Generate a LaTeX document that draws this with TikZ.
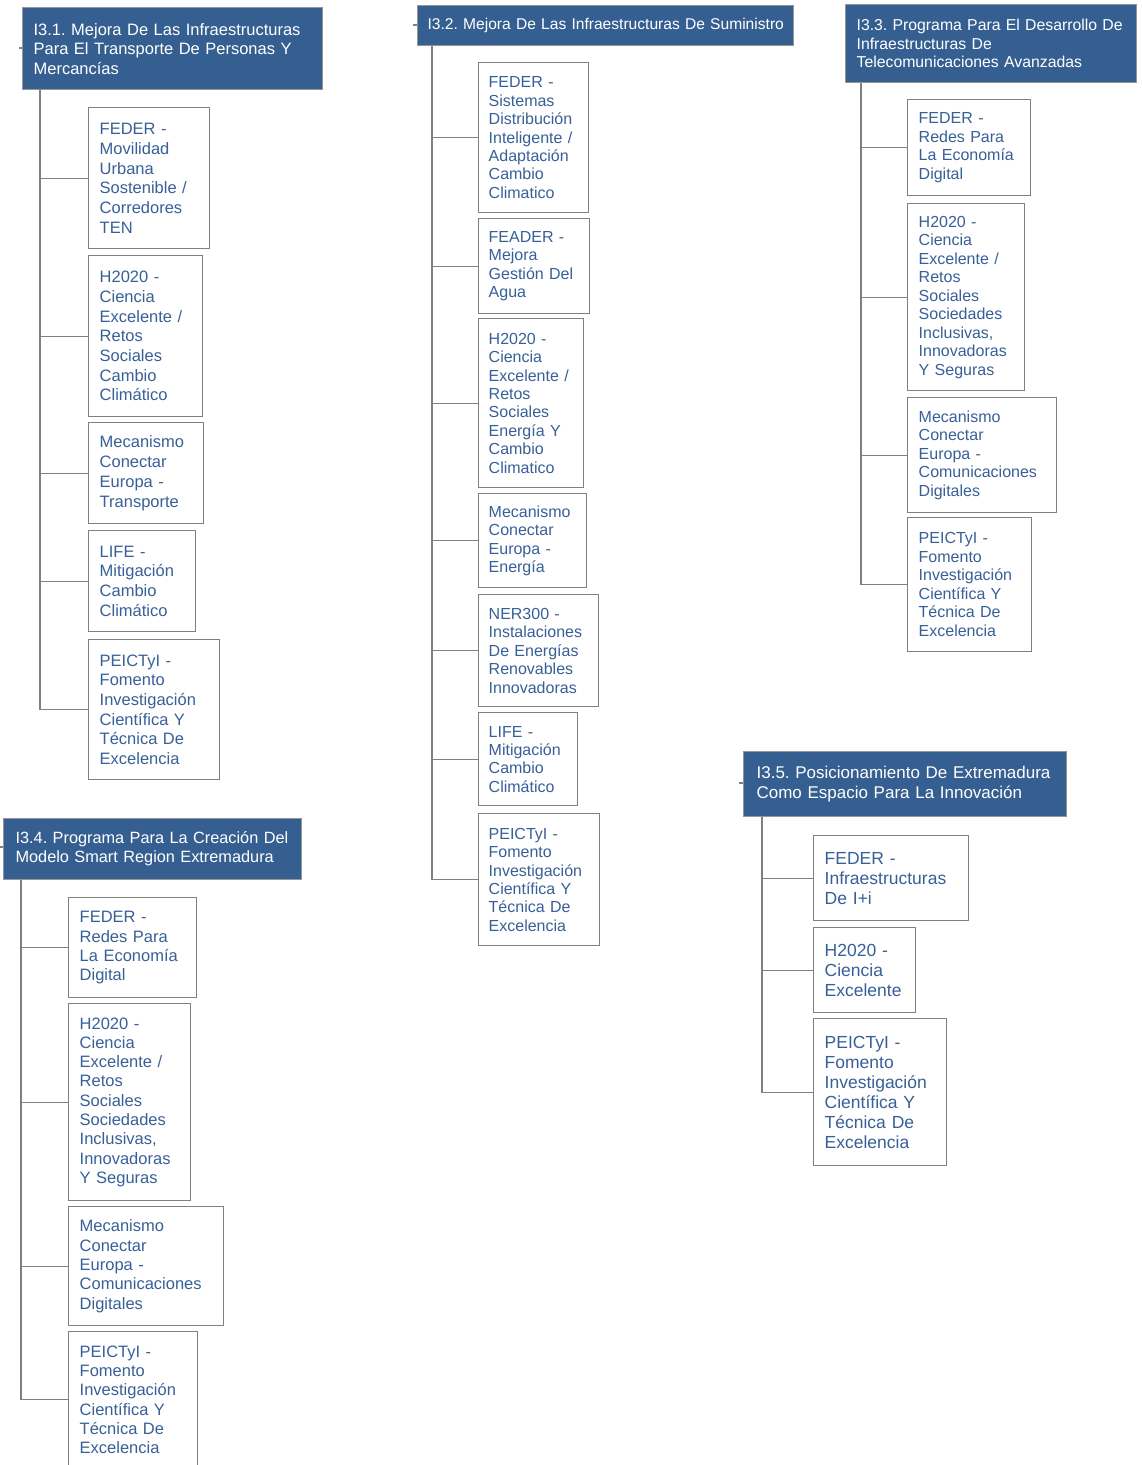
\documentclass[tikz,border=0pt]{standalone}
\usepackage{fontspec}
\setmainfont{Liberation Sans}
\definecolor{hdr}{RGB}{54,95,145}
\definecolor{txt}{RGB}{56,96,152}
\definecolor{edge}{RGB}{128,128,128}
\definecolor{hedge}{RGB}{150,150,150}
\begin{document}
\frenchspacing
\hyphenpenalty=10000
\exhyphenpenalty=10000
\begin{tikzpicture}[x=1pt,y=-1pt,
  hd/.style={draw=hedge, line width=1.2pt, fill=hdr, text=white, anchor=north west, align=left, inner ysep=0pt},
  lf/.style={draw=edge, line width=1.4pt, fill=white, text=txt, anchor=north west, align=left, inner xsep=11pt, inner ysep=0pt},
  wire/.style={draw=edge, line width=1.4pt},
  gA/.style={font=\fontsize{16.5pt}{19.7pt}\selectfont},
  gB/.style={font=\fontsize{16pt}{18.4pt}\selectfont},
  gC/.style={font=\fontsize{16pt}{18.5pt}\selectfont},
  gD/.style={font=\fontsize{16.5pt}{19.3pt}\selectfont},
  gE/.style={font=\fontsize{17.5pt}{20pt}\selectfont}]
\useasboundingbox (0,0) rectangle (1142,1465);

% ---------- I3.1 ----------
\node[hd, inner xsep=11pt, minimum width=300pt, minimum height=82pt, text width=278pt,
  font=\fontsize{16.5pt}{19.5pt}\selectfont] (h1) at (22,7)
  {I3.1. Mejora De Las Infraestructuras\\Para El Transporte De Personas Y\\Mercancías};
\coordinate (t1) at (19,48);
\coordinate (s1) at (40,0);
\node[lf, gA, minimum height=141pt, text width=99pt] (b1) at (88,107)
  {FEDER -\\Movilidad\\Urbana\\Sostenible /\\Corredores\\TEN};
\node[lf, gA, minimum height=161pt, text width=92pt] (b2) at (88,255)
  {H2020 -\\Ciencia\\Excelente /\\Retos\\Sociales\\Cambio\\Climático};
\node[lf, gA, minimum height=101pt, text width=93pt] (b3) at (88,422)
  {Mecanismo\\Conectar\\Europa -\\Transporte};
\node[lf, gA, minimum height=101pt, text width=85pt] (b4) at (88,530)
  {LIFE -\\Mitigación\\Cambio\\Climático};
\node[lf, gA, minimum height=140pt, text width=109pt] (b5) at (88,639)
  {PEICTyI -\\Fomento\\Investigación\\Científica Y\\Técnica De\\Excelencia};
\draw[wire] (t1) -- (t1 -| h1.west);
\foreach \b in {b1,b2,b3,b4,b5} \draw[wire] (s1 |- h1.south) |- (\b.west);

% ---------- I3.2 ----------
\node[hd, inner xsep=10pt, minimum width=376pt, minimum height=40pt, text width=356pt,
  font=\fontsize{15.6pt}{18.5pt}\selectfont] (h2) at (417,5)
  {\mbox{I3.2. Mejora De Las Infraestructuras De Suministro}};
\coordinate (t2) at (413,25);
\coordinate (s2) at (432,0);
\node[lf, gB, inner xsep=10pt, minimum height=150pt, text width=90pt] (c1) at (478,62)
  {FEDER -\\Sistemas\\Distribución\\Inteligente /\\Adaptación\\Cambio\\Climatico};
\node[lf, gB, inner xsep=10pt, minimum height=95pt, text width=91pt] (c2) at (478,218)
  {FEADER -\\Mejora\\Gestión Del\\Agua};
\node[lf, gB, inner xsep=10pt, minimum height=169pt, text width=85pt] (c3) at (478,318)
  {H2020 -\\Ciencia\\Excelente /\\Retos\\Sociales\\Energía Y\\Cambio\\Climatico};
\node[lf, gB, inner xsep=10pt, minimum height=94pt, text width=88pt] (c4) at (478,493)
  {Mecanismo\\Conectar\\Europa -\\Energía};
\node[lf, gB, inner xsep=10pt, minimum height=112pt, text width=100pt] (c5) at (478,594)
  {NER300 -\\Instalaciones\\De Energías\\Renovables\\Innovadoras};
\node[lf, gB, inner xsep=10pt, minimum height=93pt, text width=79pt] (c6) at (478,712)
  {LIFE -\\Mitigación\\Cambio\\Climático};
\node[lf, gB, inner xsep=10pt, minimum height=132pt, text width=101pt] (c7) at (478,813)
  {PEICTyI -\\Fomento\\Investigación\\Científica Y\\Técnica De\\Excelencia};
\draw[wire] (t2) -- (t2 -| h2.west);
\foreach \b in {c1,c2,c3,c4,c5,c6,c7} \draw[wire] (s2 |- h2.south) |- (\b.west);

% ---------- I3.3 ----------
\node[hd, inner xsep=11pt, minimum width=291pt, minimum height=78pt, text width=269pt,
  font=\fontsize{15.8pt}{18.7pt}\selectfont] (h3) at (845,4)
  {I3.3. Programa Para El Desarrollo De\\Infraestructuras De\\Telecomunicaciones Avanzadas};
\coordinate (s3) at (861,0);
\node[lf, gC, minimum height=96pt, text width=101pt] (d1) at (907,99)
  {FEDER -\\Redes Para\\La Economía\\Digital};
\node[lf, gC, minimum height=187pt, text width=95pt] (d2) at (907,203)
  {H2020 -\\Ciencia\\Excelente /\\Retos\\Sociales\\Sociedades\\Inclusivas,\\Innovadoras\\Y Seguras};
\node[lf, gC, minimum height=115pt, text width=127pt] (d3) at (907,397)
  {Mecanismo\\Conectar\\Europa -\\Comunicaciones\\Digitales};
\node[lf, gC, minimum height=134pt, text width=102pt] (d4) at (907,517)
  {PEICTyI -\\Fomento\\Investigación\\Científica Y\\Técnica De\\Excelencia};
\foreach \b in {d1,d2,d3,d4} \draw[wire] (s3 |- h3.south) |- (\b.west);

% ---------- I3.4 ----------
\node[hd, inner xsep=12pt, minimum width=298pt, minimum height=61pt, text width=274pt,
  font=\fontsize{16.3pt}{19pt}\selectfont] (h4) at (3,818)
  {I3.4. Programa Para La Creación Del\\Modelo Smart Region Extremadura};
\coordinate (t4) at (0,847);
\coordinate (s4) at (21,0);
\node[lf, gD, minimum height=100pt, text width=106pt] (e1) at (68,897)
  {FEDER -\\Redes Para\\La Economía\\Digital};
\node[lf, gD, minimum height=197pt, text width=100pt] (e2) at (68,1003)
  {H2020 -\\Ciencia\\Excelente /\\Retos\\Sociales\\Sociedades\\Inclusivas,\\Innovadoras\\Y Seguras};
\node[lf, gD, minimum height=119pt, text width=133pt] (e3) at (68,1206)
  {Mecanismo\\Conectar\\Europa -\\Comunicaciones\\Digitales};
\node[lf, gD, minimum height=136pt, text width=107pt] (e4) at (68,1331)
  {PEICTyI -\\Fomento\\Investigación\\Científica Y\\Técnica De\\Excelencia};
\draw[wire] (t4) -- (t4 -| h4.west);
\foreach \b in {e1,e2,e3,e4} \draw[wire] (s4 |- h4.south) |- (\b.west);

% ---------- I3.5 ----------
\node[hd, inner xsep=13pt, minimum width=323pt, minimum height=65pt, text width=297pt,
  font=\fontsize{17pt}{20pt}\selectfont] (h5) at (743,751)
  {I3.5. Posicionamiento De Extremadura\\Como Espacio Para La Innovación};
\coordinate (t5) at (739,783);
\coordinate (s5) at (762,0);
\node[lf, gE, minimum height=85pt, text width=133pt] (f1) at (813,835)
  {FEDER -\\Infraestructuras\\De I+i};
\node[lf, gE, minimum height=85pt, text width=80pt] (f2) at (813,927)
  {H2020 -\\Ciencia\\Excelente};
\node[lf, gE, minimum height=147pt, text width=111pt] (f3) at (813,1018)
  {PEICTyI -\\Fomento\\Investigación\\Científica Y\\Técnica De\\Excelencia};
\draw[wire] (t5) -- (t5 -| h5.west);
\foreach \b in {f1,f2,f3} \draw[wire] (s5 |- h5.south) |- (\b.west);
\end{tikzpicture}
\end{document}
